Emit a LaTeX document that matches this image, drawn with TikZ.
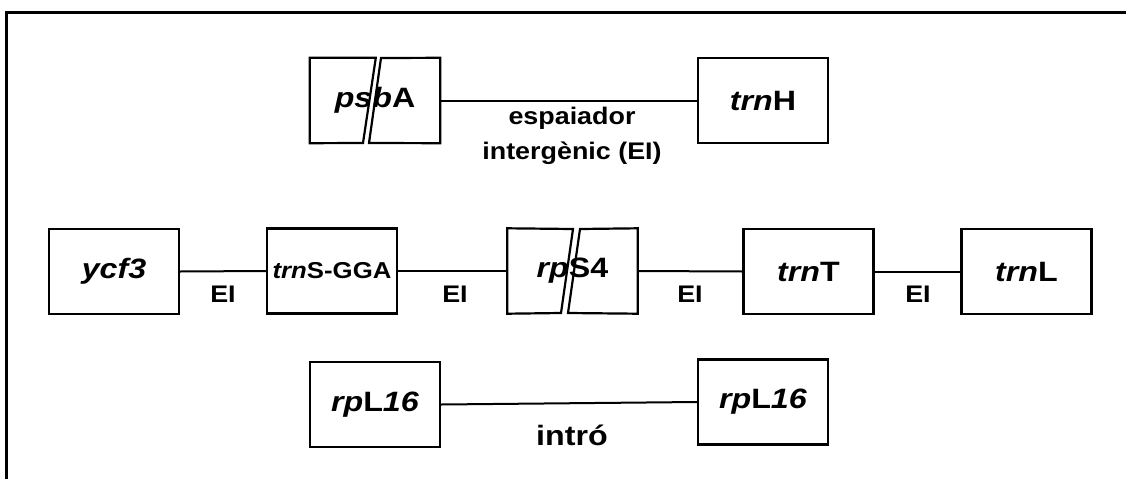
\documentclass[tikz,border=0pt]{standalone}
\usepackage{fontspec}
\setmainfont{Liberation Sans}
% horizontally widened lettering
\newcommand{\wideG}[1]{\scalebox{1.15}[1]{#1}}
\newcommand{\wideL}[1]{\scalebox{1.12}[1]{#1}}
\begin{document}
\begin{tikzpicture}[x=1pt,y=-1pt,
  gene/.style={minimum width=130pt,minimum height=85pt,inner sep=0pt,
    font=\fontsize{28}{32}\selectfont\bfseries},
  genebox/.style={gene,draw,line width=2.2pt},
  link/.style={line width=2pt},
  piece/.style={draw,line width=2.2pt,line join=miter},
  lab/.style={font=\fontsize{24}{28}\selectfont\bfseries,inner sep=0pt},
]
\useasboundingbox (0,0) rectangle (1126,479);
% outer frame (only top and left edges fall inside the page)
\draw[line width=3pt] (6,479) -- (6,12) -- (1126,12);

% ---- psbA / trnH spacer ----
\node[gene] (psbA) at (375,100.5) {};
\draw[piece] (psbA.north west) -- ++(66,0) -- (363,143) -- (psbA.south west) -- cycle;
\draw[piece] (381,58) -- (psbA.north east) -- (psbA.south east) -- (369,143) -- cycle;
\node[gene] at (psbA) {\wideG{\textit{psb}A}};
\node[genebox] (trnH) at (763,100.5) {\wideG{\textit{trn}H}};
\draw[link] (psbA.east) -- (trnH.west);
\node[lab] (sp1) at (572,118) {\wideL{espaiador}};
\node[lab] (sp2) at (572,153) {\wideL{intergènic (EI)}};

% ---- ycf3 ... trnL region ----
\node[genebox] (ycf3) at (114,271.5) {\wideG{\textit{ycf3}}};
\node[genebox,font=\fontsize{23}{27}\selectfont\bfseries] (trnS) at (332,271) {\wideL{\textit{trn}S-GGA}};
\node[gene] (rps4) at (572.5,271) {};
\draw[piece] (rps4.north west) -- (573,229) -- (561,313) -- (rps4.south west) -- cycle;
\draw[piece] (580,229) -- (rps4.north east) -- (rps4.south east) -- (568,313) -- cycle;
\node[gene] at (rps4) {\wideG{\textit{rp}S4}};
\node[genebox] (trnT) at (808.5,271.5) {\wideG{\textit{trn}T}};
\node[genebox] (trnL) at (1026.5,271.5) {\wideG{\textit{trn}L}};
\draw[link] (ycf3.east) -- (trnS.west);
\draw[link] (trnS.east) -- (rps4.west);
\draw[link] (rps4.east) -- (trnT.west);
\draw[link] (trnT.east) -- (trnL.west);
\node[lab] (ei1) at (223,294) {\wideL{EI}};
\node[lab] (ei2) at (455,294) {\wideL{EI}};
\node[lab] (ei3) at (690,294) {\wideL{EI}};
\node[lab] (ei4) at (918,294) {\wideL{EI}};

% ---- rpL16 intron ----
\node[genebox] (l16a) at (375,404.5) {\wideG{\textit{rp}L\textit{16}}};
\node[genebox] (l16b) at (763,402) {\wideG{\textit{rp}L\textit{16}}};
\draw[link] (l16a.east) -- (l16b.west);
\node[lab,font=\fontsize{28}{32}\selectfont\bfseries] (intro) at (572,435) {\wideG{intró}};
\end{tikzpicture}
\end{document}
